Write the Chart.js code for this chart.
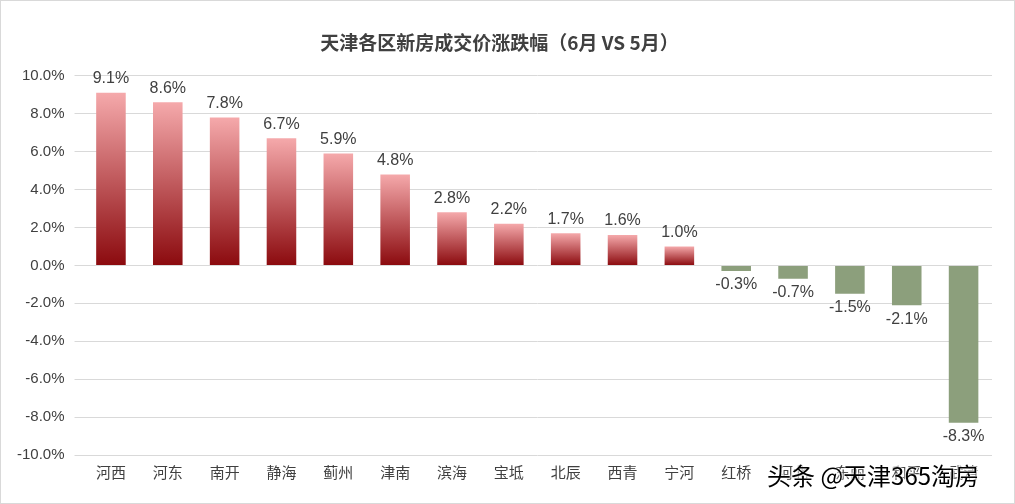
<!DOCTYPE html><html><head><meta charset="utf-8">
<script src="https://cdn.jsdelivr.net/npm/chart.js@4"></script>
<style>body{margin:0;background:#fff;font-family:"Noto Sans CJK SC"}#w{position:relative;width:1015px;height:504px;border:1px solid #d9d9d9;box-sizing:border-box}
#wm{position:absolute;left:766px;top:456px;font-size:24px;color:#000;text-shadow:0 0 2px #fff,0 0 2px #fff,0 0 3px #fff;font-family:"Noto Sans CJK SC"}</style></head><body>
<div id="w"><canvas id="c" width="1013" height="502"></canvas><div id="wm">头条 @天津365淘房</div></div>
<script>
const categories=["河西","河东","南开","静海","蓟州","津南","滨海","宝坻","北辰","西青","宁河","红桥","河北","东丽","和平","武清"];
const values=[9.1,8.6,7.8,6.7,5.9,4.8,2.8,2.2,1.7,1.6,1.0,-0.3,-0.7,-1.5,-2.1,-8.3];
const ctx=document.getElementById('c').getContext('2d');
function bg(c){const {chart,dataIndex}=c;const a=chart.chartArea;if(!a)return '#c00';
 if(values[dataIndex]<0)return '#8c9f7c';
 const y=chart.scales.y;const g=ctx.createLinearGradient(0,y.getPixelForValue(values[dataIndex]),0,y.getPixelForValue(0));
 g.addColorStop(0,'#f5a9ab');g.addColorStop(1,'#8b0a0e');return g;}
new Chart(ctx,{type:'bar',data:{labels:categories,datasets:[{data:values,backgroundColor:bg,categoryPercentage:1,barPercentage:0.52}]},
options:{responsive:false,animation:false,layout:{padding:{left:6,right:22,top:10,bottom:22}},
plugins:{legend:{display:false},title:{display:true,text:'天津各区新房成交价涨跌幅（6月 VS 5月）',font:{size:19,weight:'bold',family:'Noto Sans CJK SC'},color:'#404040',padding:{top:20,bottom:22}},tooltip:{enabled:false}},
scales:{x:{grid:{display:false},border:{display:false},ticks:{color:'#404040',font:{size:15,family:'Noto Sans CJK SC'},padding:0}},
y:{min:-10,max:10,ticks:{stepSize:2,color:'#404040',padding:10,font:{size:15,family:'Liberation Sans'},callback:v=>v.toFixed(1)+'%'},grid:{color:'#d9d9d9'},border:{display:false}}}},
plugins:[{afterDatasetsDraw(ch){const c=ch.ctx;const m=ch.getDatasetMeta(0);c.save();c.font='16px "Liberation Sans"';c.fillStyle='#404040';c.textAlign='center';
m.data.forEach((b,i)=>{const v=values[i];c.textBaseline=v>=0?'bottom':'top';c.fillText(v.toFixed(1)+'%',b.x,v>=0?b.y-6:b.y+6);});c.restore();}}]});
</script></body></html>
